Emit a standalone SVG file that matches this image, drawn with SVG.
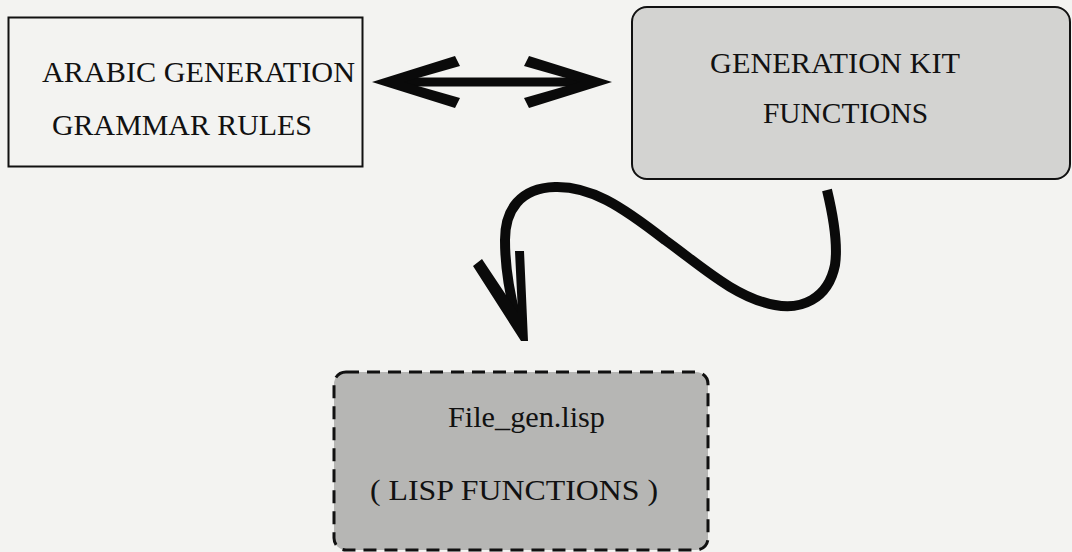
<svg xmlns="http://www.w3.org/2000/svg" width="1072" height="552" viewBox="0 0 1072 552">
<defs>
<style>
.ln{fill:none;stroke:#0a0a0a;stroke-linecap:butt;stroke-linejoin:round}
.hd{fill:#0a0a0a;stroke:none}
</style>
</defs>
<rect width="1072" height="552" fill="#f3f3f1"/>
<g id="grammar">
<rect x="8.5" y="17.5" width="354" height="149" fill="#f3f3f1" stroke="#111" stroke-width="2"/>
<text font-family="Liberation Serif" font-size="30" fill="#111" x="42" y="82" textLength="313" lengthAdjust="spacingAndGlyphs">ARABIC GENERATION</text>
<text font-family="Liberation Serif" font-size="30" fill="#111" x="52" y="135" textLength="260" lengthAdjust="spacingAndGlyphs">GRAMMAR RULES</text>
</g>
<g id="kit">
<rect x="632" y="7" width="438" height="172" rx="15" fill="#d3d3d1" stroke="#111" stroke-width="2"/>
<text font-family="Liberation Serif" font-size="30" fill="#111" x="710" y="73" textLength="250" lengthAdjust="spacingAndGlyphs">GENERATION KIT</text>
<text font-family="Liberation Serif" font-size="30" fill="#111" x="763" y="123" textLength="165" lengthAdjust="spacingAndGlyphs">FUNCTIONS</text>
</g>
<g id="lisp">
<rect x="334" y="372" width="374" height="178" rx="12" fill="#b6b6b4" stroke="#111" stroke-width="3" stroke-dasharray="13 8"/>
<text font-family="Liberation Serif" font-size="30" fill="#111" x="448" y="427" textLength="157" lengthAdjust="spacingAndGlyphs">File_gen.lisp</text>
<text font-family="Liberation Serif" font-size="30" fill="#111" x="370" y="500" textLength="288" lengthAdjust="spacingAndGlyphs">( LISP  FUNCTIONS )</text>
</g>
<g id="connectors">
<line class="ln" x1="398" y1="82" x2="586" y2="82" stroke-width="9"/>
<polygon class="hd" points="372,82 455,56 460,66 404,82 460,98 455,108"/>
<polygon class="hd" points="612,82 529,56 524,66 580,82 524,98 529,108"/>
<path class="ln" d="M827,190 C833,215 838,245 835,265 C828,300 800,310 775,305 C735,298 700,265 665,240 C620,205 590,186 555,187 C520,188 505,210 505,240 C505,270 510,295 516,318" stroke-width="10"/>
<polygon class="hd" points="473,266 482,259 518,313 515,251 524,251 528,341 521,341"/>
</g>
</svg>
